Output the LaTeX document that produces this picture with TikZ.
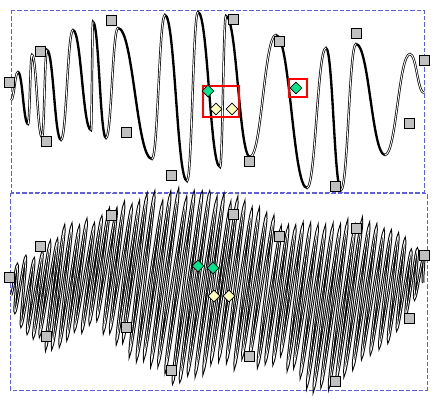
\documentclass[tikz,border=0pt]{standalone}
\usetikzlibrary{shapes.geometric}
\definecolor{framecolor}{RGB}{95,95,225}
\definecolor{handlecolor}{RGB}{192,192,192}
\definecolor{nodegreen}{RGB}{0,230,140}
\definecolor{nodeyellow}{RGB}{255,255,190}
\tikzset{
  panelframe/.style={
    draw=framecolor,
    line width=0.8pt,
    dash pattern=on 3.8pt off 1.7pt
  },
  wave outer/.style={draw=black, line width=2.0pt},
  wave inner/.style={draw=white, line width=0.75pt, line cap=round},
  scribble/.style={
    draw=black,
    line width=0.85pt,
    double=white,
    double distance=0.6pt
  },
  handle/.style={
    rectangle,
    draw=black,
    fill=handlecolor,
    line width=0.6pt,
    minimum size=0.3cm,
    inner sep=0pt
  },
  knot/.style={
    diamond,
    draw=black,
    line width=0.6pt,
    minimum size=0.36cm,
    inner sep=0pt
  },
  knot cusp/.style={knot, fill=nodegreen},
  knot smooth/.style={knot, fill=nodeyellow},
  selbox/.style={rectangle, draw=red, line width=2.4pt, inner sep=0pt}
}
% extremes of the upper wave: x/y/hollow
\newcommand\toppts{18/72/1, 28/124/0, 32/55/1, 42/137/1, 47/50/1, 61/140/0,
  73/30/1, 91/130/0, 93/22/1, 106/138/0, 118/28/1, 152/159/0, 165/15/1,
  187/181/0, 198/12/1, 220/167/0, 226/16/1, 250/157/0, 276/35/1, 307/188/0,
  326/48/1, 341/190/0, 356/44/1, 385/155/0, 410/54/1, 424/93/1}
% envelope of the lower scribble: x/top/bottom to x/top/bottom, periods
\newcommand\scribknots{11/272/303/40/245/337/4, 40/245/337/60/232/343/3,
  60/232/343/105/212/322/6, 105/212/322/140/202/347/5,
  140/202/347/193/196/380/7, 193/196/380/230/208/360/5,
  230/208/360/290/232/358/8, 290/232/358/325/228/387/5,
  325/228/387/355/228/377/4, 355/228/377/395/240/337/5,
  395/240/337/425/262/285/4}
\begin{document}
\begin{tikzpicture}[x=0.03cm, y=-0.03cm]
  \useasboundingbox (0,0) rectangle (439,403);

  % panels
  \draw[panelframe] (11,10) rectangle (424,192);
  \draw[panelframe] (10,193) rectangle (427,390);

  % upper wave
  \draw[wave outer] (11,100)
    \foreach \x/\y/\f [remember=\x as \lx (initially 11)] in \toppts {
      .. controls +({0.45*(\x-\lx)},0) and +({-0.45*(\x-\lx)},0) .. (\x,\y)
    };
  \foreach \x/\y/\f [remember=\x as \lx (initially 11),
                     remember=\y as \ly (initially 100)] in \toppts {
    \ifnum\f=1
      \draw[wave inner] (\lx,\ly)
        .. controls +({0.45*(\x-\lx)},0) and +({-0.45*(\x-\lx)},0) .. (\x,\y);
    \fi
  }

  % lower scribble
  \pgfmathsetseed{42}
  \draw[scribble] (11,295)
    \foreach \xa/\ua/\la/\xb/\ub/\lb/\np in \scribknots {
      \foreach \j in {1,...,\np} {
        .. controls +({0.22*(\xb-\xa)/\np},0) and +({-0.22*(\xb-\xa)/\np},0)
        .. ({\xa+(\j-0.5)/\np*(\xb-\xa)+0.07*(\la-\ua+(\j-0.5)/\np*(\lb-\ub-\la+\ua))},
            {\ua+(\j-0.5)/\np*(\ub-\ua)+6*rand})
        .. controls +({0.22*(\xb-\xa)/\np},0) and +({-0.22*(\xb-\xa)/\np},0)
        .. ({\xa+\j/\np*(\xb-\xa)-0.07*(\la-\ua+\j/\np*(\lb-\ub-\la+\ua))},
            {\la+\j/\np*(\lb-\la)+6*rand})
      }
    };

  % selection boxes
  \node[selbox, minimum width=1.08cm, minimum height=0.93cm] (sel1) at (221,101.5) {};
  \node[selbox, minimum size=0.54cm] (sel2) at (298,88) {};

  % handles, upper and lower
  \foreach \x/\y [count=\i] in {9/82, 40/51, 46/141, 111/20, 126/132, 171/175,
      233/19, 249/161, 279/41, 335/186, 356/33, 409/123, 424/60} {
    \node[handle] (ht\i) at (\x,\y) {};
    \node[handle] (hb\i) at (\x,{\y+195}) {};
  }

  % nodes on the upper wave
  \node[knot cusp] (ct1) at (208,91) {};
  \node[knot smooth] (st1) at (216,109) {};
  \node[knot smooth] (st2) at (232,109) {};
  \node[knot cusp] (ct2) at (296,88) {};

  % nodes on the lower scribble
  \node[knot cusp] (cb1) at (198,266) {};
  \node[knot cusp] (cb2) at (213,268) {};
  \node[knot smooth] (sb1) at (214,296) {};
  \node[knot smooth] (sb2) at (229,296) {};

\end{tikzpicture}
\end{document}
